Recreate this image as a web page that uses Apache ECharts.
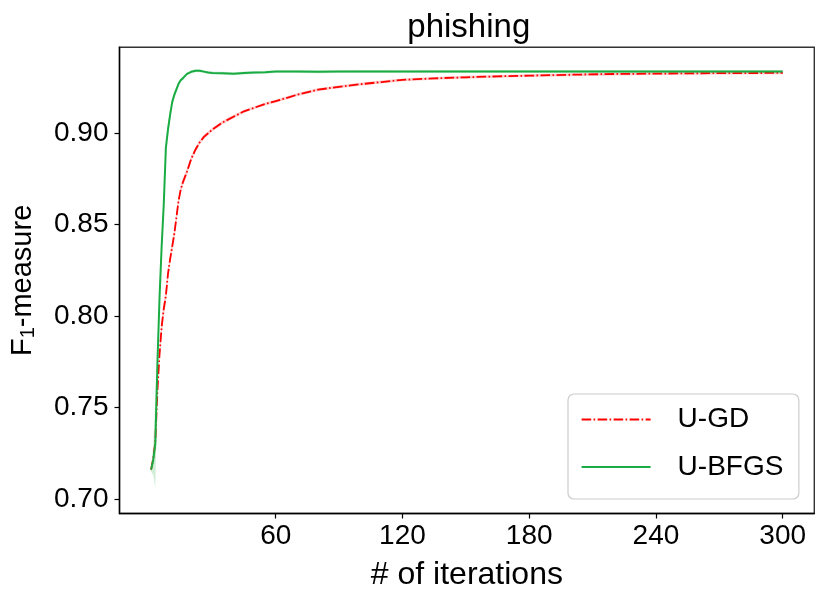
<!DOCTYPE html>
<html>
<head>
<meta charset="utf-8">
<script src="https://cdn.jsdelivr.net/npm/echarts@6/dist/echarts.min.js"></script>
<style>
html,body{margin:0;padding:0;background:#fff;}
#chart{width:831px;height:602px;}
</style>
</head>
<body>
<div id="chart"></div>
<script>
// ---- data ----
const iterations = [1,2,3,4,5,6,7,8,9,10,11,12,13,14,15,16,18,20,22,24,26,28,30,35,40,45,50,55,60,70,80,90,100,110,120,135,150,165,180,200,220,240,260,280,300];
const gdValues = [0.716,0.722,0.731,0.759,0.779,0.794,0.804,0.811,0.823,0.831,0.838,0.845,0.854,0.863,0.869,0.873,0.879,0.886,0.891,0.895,0.898,0.900,0.902,0.906,0.909,0.912,0.914,0.916,0.9175,0.921,0.9238,0.9254,0.9268,0.9280,0.9292,0.9300,0.9306,0.9311,0.9315,0.9320,0.9324,0.9326,0.9328,0.9329,0.9330];
const bfgsValues = [0.716,0.721,0.730,0.774,0.810,0.838,0.861,0.892,0.902,0.910,0.917,0.921,0.924,0.927,0.929,0.930,0.9325,0.9336,0.9342,0.9342,0.9337,0.9332,0.9330,0.9328,0.9325,0.9329,0.9332,0.9334,0.9337,0.9337,0.9336,0.9337,0.9338,0.9338,0.9337,0.9338,0.9338,0.9338,0.9338,0.9338,0.9338,0.9338,0.9338,0.9338,0.9338];
const gdStd = [0.001,0.003,0.004,0.004,0.004,0.004,0.004,0.004,0.003,0.003,0.003,0.003,0.003,0.002,0.002,0.002,0.002,0.0015,0.0015,0.0012,0.0012,0.001,0.001,0.001,0.001,0.0008,0.0008,0.0008,0.0008,0.0008,0.0008,0.0008,0.0008,0.0008,0.0008,0.0008,0.0008,0.0008,0.0008,0.0008,0.0008,0.0008,0.0008,0.0008,0.0008];
const bfgsStd = [0.001,0.008,0.024,0.012,0.006,0.005,0.005,0.004,0.004,0.003,0.002,0.002,0.0015,0.0012,0.001,0.001,0.0008,0.0008,0.0008,0.0008,0.0008,0.0008,0.0008,0.0008,0.0008,0.0008,0.0008,0.0008,0.0008,0.0008,0.0008,0.0008,0.0008,0.0008,0.0008,0.0008,0.0008,0.0008,0.0008,0.0008,0.0008,0.0008,0.0008,0.0008,0.0008];
const xTicks = [60,120,180,240,300];
const yTicks = [0.70,0.75,0.80,0.85,0.90];

const FONT = "'Liberation Sans', Arial, sans-serif";

function pairs(vals){ return iterations.map((x,i)=>[x, vals[i]]); }

function bandSeries(mean, std, color){
  return {
    type: 'custom',
    silent: true,
    data: [[iterations[0], mean[0]]],
    encode: {x:0, y:1},
    z: 1,
    renderItem: function(params, api){
      const up = iterations.map((x,i)=>api.coord([x, mean[i]+std[i]]));
      const lo = iterations.map((x,i)=>api.coord([x, mean[i]-std[i]])).reverse();
      return {type:'polygon', shape:{points: up.concat(lo)}, style:{fill: color}};
    }
  };
}

const chart = echarts.init(document.getElementById('chart'), null, {renderer:'canvas'});
chart.setOption({
  animation: false,
  backgroundColor: '#ffffff',
  title: {
    text: 'phishing',
    left: 463.8, top: 6, textAlign: 'center',
    textStyle: {fontFamily: FONT, fontSize: 33, fontWeight: 'normal', color: '#000'}
  },
  grid: {left: 113.3, right: 16.7, top: 47.3, bottom: 88.5, show: true, borderColor: '#333', borderWidth: 1.4, backgroundColor: 'transparent'},
  legend: {
    left: 568, top: 394,
    orient: 'vertical',
    data: ['U-GD', 'U-BFGS'],
    itemWidth: 69, itemHeight: 28, itemGap: 19.5,
    padding: [11.5, 15.5, 18, 12.6],
    backgroundColor: '#fff',
    borderColor: '#cccccc', borderWidth: 1.2, borderRadius: 6,
    itemStyle: {opacity: 0},
    textStyle: {fontFamily: FONT, fontSize: 28, color: '#000', padding: [0,0,0,22]}
  },
  xAxis: {
    type: 'value', min: -13.95, max: 314.95,
    splitLine: {show: false},
    axisLine: {show: true, onZero: false, lineStyle: {color: '#000', width: 1.4}},
    axisTick: {show: true, length: 5, lineStyle: {color: '#000', width: 1.2}, customValues: xTicks},
    axisLabel: {customValues: xTicks, fontFamily: FONT, fontSize: 28, color: '#000', margin: 9},
    name: '# of iterations', nameLocation: 'middle', nameGap: 46,
    nameTextStyle: {fontFamily: FONT, fontSize: 32, color: '#000'}
  },
  yAxis: {
    type: 'value', min: 0.692, max: 0.947,
    splitLine: {show: false},
    axisLine: {show: true, onZero: false, lineStyle: {color: '#000', width: 1.4}},
    axisTick: {show: true, length: 5, lineStyle: {color: '#000', width: 1.2}, customValues: yTicks},
    axisLabel: {customValues: yTicks, fontFamily: FONT, fontSize: 28, color: '#000', margin: 11,
      formatter: v => v.toFixed(2)},
    name: '{a|F}{b|1}{a|-measure}', nameLocation: 'middle', nameGap: 81,
    nameTextStyle: {fontFamily: FONT, fontSize: 29, color: '#000',
      rich: {
        a: {fontFamily: FONT, fontSize: 29, color: '#000'},
        b: {fontFamily: FONT, fontSize: 20, color: '#000', padding: [12,0,0,0]}
      }}
  },
  series: [
    bandSeries(gdValues, gdStd, 'rgba(255,0,0,0.2)'),
    bandSeries(bfgsValues, bfgsStd, 'rgba(26,172,67,0.2)'),
    {
      name: 'U-GD', type: 'line', data: pairs(gdValues), showSymbol: false, symbol: 'none', z: 3,
      color: '#ff0000',
      lineStyle: {color: '#ff0000', width: 1.8, type: [9.6, 2.4, 1.6, 2.4]}
    },
    {
      name: 'U-BFGS', type: 'line', data: pairs(bfgsValues), showSymbol: false, symbol: 'none', z: 4,
      color: '#1aac43',
      lineStyle: {color: '#1aac43', width: 2}
    }
  ]
});
</script>
</body>
</html>
